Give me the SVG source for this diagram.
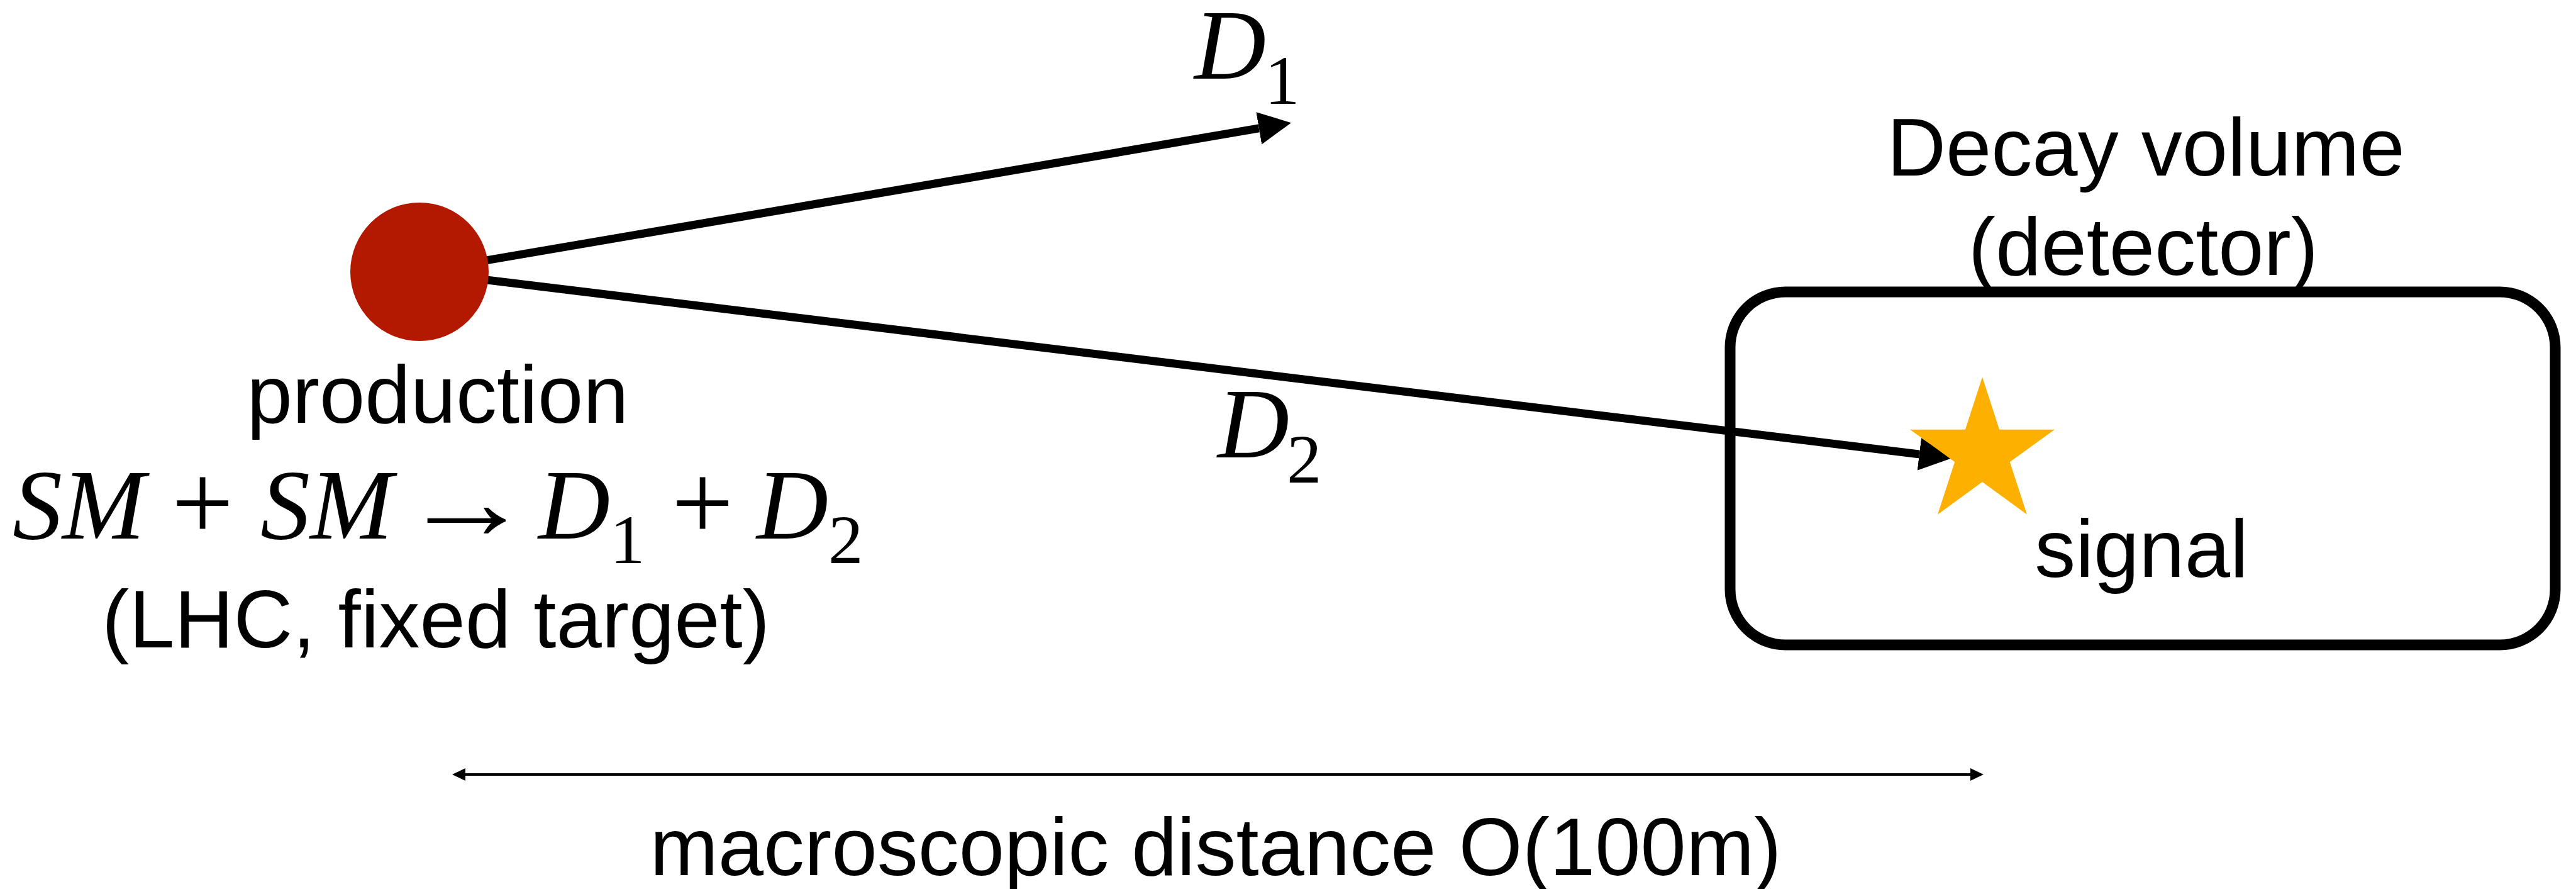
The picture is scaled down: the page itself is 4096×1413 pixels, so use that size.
<svg xmlns="http://www.w3.org/2000/svg" width="4096" height="1413" viewBox="0 0 4096 1413">
  <style>
    .lbl { font-family: "Liberation Sans", Arial, sans-serif; font-size: 130px; fill: #000; text-anchor: middle; }
    .math { font-family: "Liberation Serif", "Times New Roman", serif; font-size: 158px; fill: #000; }
    .it { font-style: italic; }
    .sub { font-size: 111px; font-style: normal; }
    .op { text-anchor: middle; font-size: 175px; }
    .track { stroke: #000; stroke-width: 13; fill: none; }
    .dim { stroke: #000; stroke-width: 4; fill: none; }
  </style>
  <defs>
    <marker id="head" markerUnits="userSpaceOnUse" viewBox="0 0 52 52" refX="0" refY="26" markerWidth="52" markerHeight="52" orient="auto">
      <path d="M0,0 L52,26 L0,52 z" fill="#000"/>
    </marker>
    <marker id="dimhead" markerUnits="userSpaceOnUse" viewBox="0 0 21 20" refX="0" refY="10" markerWidth="21" markerHeight="20" orient="auto-start-reverse">
      <path d="M0,0 L21,10 L0,20 z" fill="#000"/>
    </marker>
  </defs>
  <rect width="4096" height="1413" fill="#fff"/>

  <g id="connectors">
    <line id="arrow-D1" class="track" x1="667" y1="432" x2="2001.8" y2="203.9" marker-end="url(#head)"/>
    <line id="arrow-D2" class="track" x1="667" y1="432" x2="3051.8" y2="721.9" marker-end="url(#head)"/>
    <line id="distance" class="dim" x1="740" y1="1231" x2="3133" y2="1231" marker-start="url(#dimhead)" marker-end="url(#dimhead)"/>
  </g>

  <g id="label-D1">
    <text class="math" y="125"><tspan class="it" x="1899">D</tspan><tspan class="sub" x="2011" y="165">1</tspan></text>
  </g>
  <g id="label-D2">
    <text class="math" y="727"><tspan class="it" x="1936">D</tspan><tspan class="sub" x="2046" y="767">2</tspan></text>
  </g>

  <g id="production">
    <circle cx="667" cy="432" r="110" fill="#B31900"/>
    <text class="lbl" x="696" y="672">production</text>
    <text class="math" y="856"><tspan class="it" x="20">SM</tspan><tspan class="op" x="322" y="858">+</tspan><tspan class="it" x="414" y="856">SM</tspan><tspan class="it" x="856" y="856">D</tspan><tspan class="sub" x="970" y="895">1</tspan><tspan class="op" x="1117" y="858">+</tspan><tspan class="it" x="1203" y="856">D</tspan><tspan class="sub" x="1317" y="895">2</tspan></text>
    <text class="math" text-anchor="middle" transform="translate(742,856) scale(1.33,1.1)">→</text>
    <text class="lbl" x="693" y="1029">(LHC, fixed target)</text>
  </g>

  <g id="detector">
    <rect x="2751" y="464" width="1312" height="561" rx="88" ry="88" fill="none" stroke="#000" stroke-width="17"/>
    <text class="lbl" x="3412" y="279">Decay volume</text>
    <text class="lbl" x="3408" y="437">(detector)</text>
  </g>

  <g id="signal">
    <polygon fill="#FDB000" points="3152,599.2 3179.1,682.7 3266.9,682.7 3195.8,734.2 3223,817.7 3152,766.1 3081,817.7 3108.2,734.2 3037.1,682.7 3124.9,682.7"/>
    <text class="lbl" x="3405" y="917">signal</text>
  </g>

  <g id="distance-label">
    <text class="lbl" x="1933" y="1391">macroscopic distance O(100m)</text>
  </g>
</svg>
